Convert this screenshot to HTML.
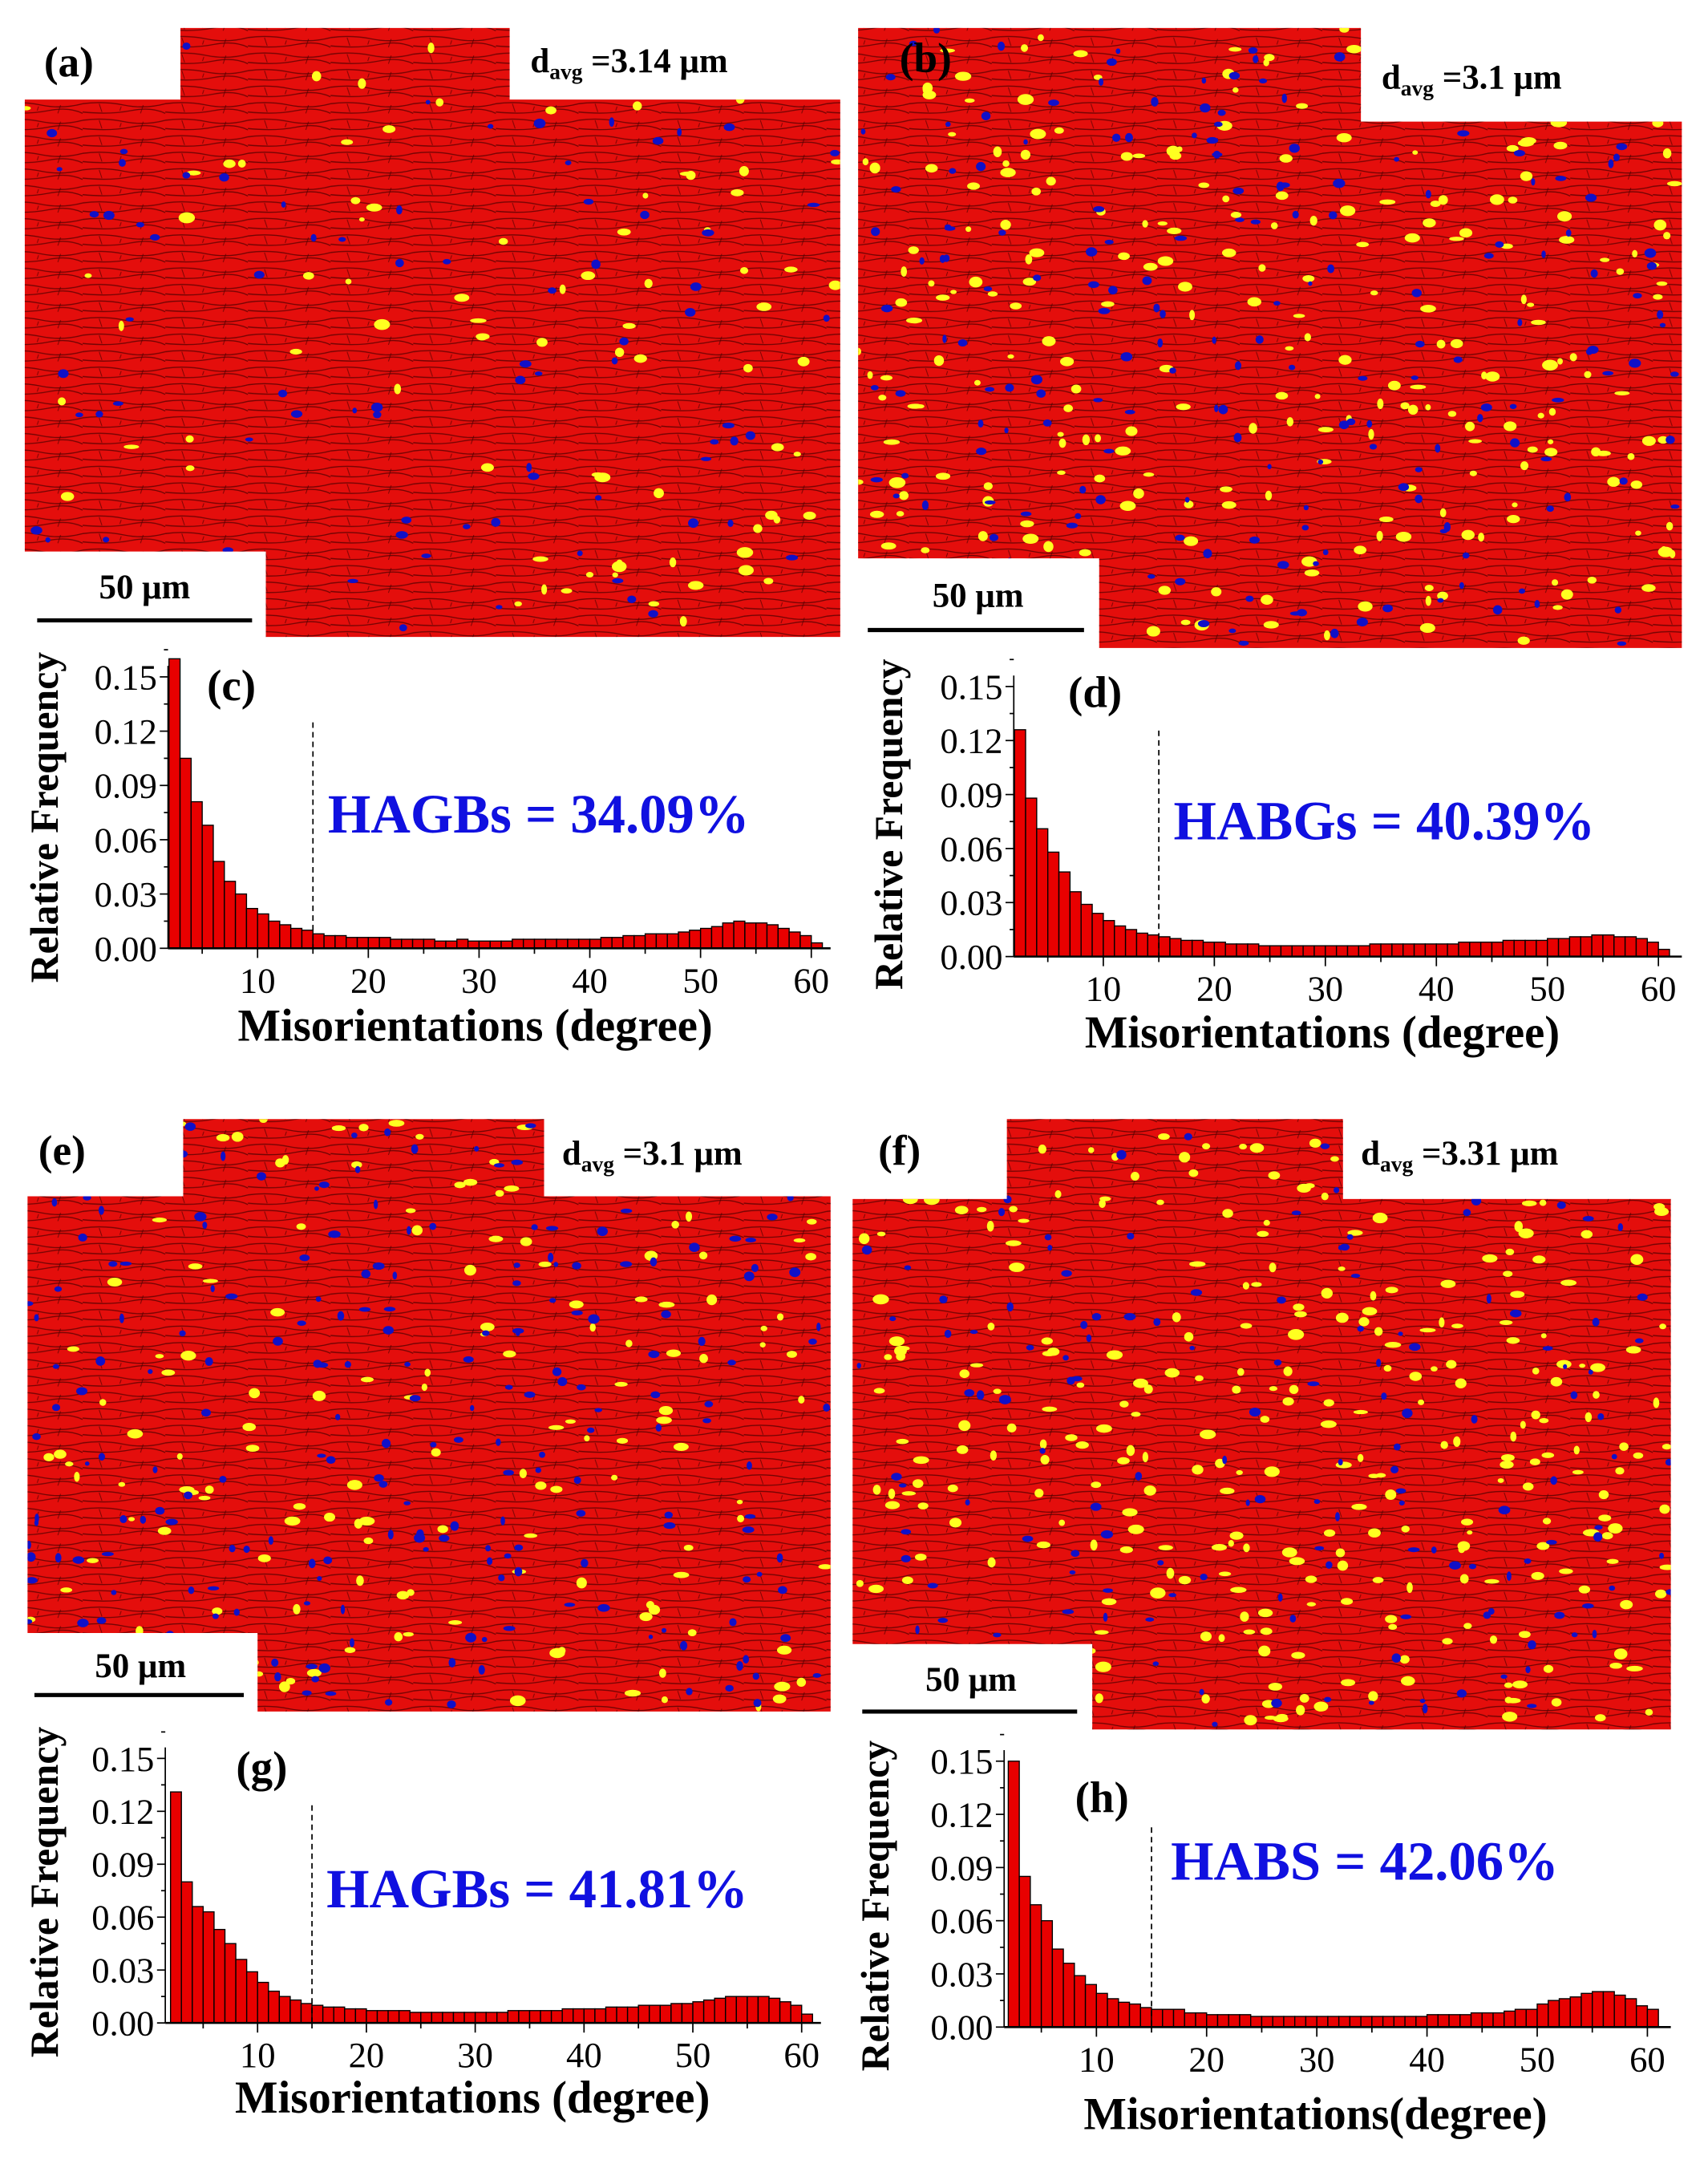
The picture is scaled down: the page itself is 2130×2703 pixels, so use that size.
<!DOCTYPE html>
<html><head><meta charset="utf-8"><style>
html,body{margin:0;padding:0;background:#fff}
svg{display:block}
text{font-family:"Liberation Serif",serif}
</style></head><body>
<svg id="fig" width="2130" height="2703" viewBox="0 0 1240 1573" xmlns="http://www.w3.org/2000/svg">
<defs>
<pattern id="grain" width="60" height="12" patternUnits="userSpaceOnUse">
<path d="M0 3 Q15 1 30 4 T60 3 M0 9 Q20 11 35 8 T60 10" stroke="#4a0000" stroke-width="0.8" fill="none" opacity="0.75"/>
<path d="M12 3 L14 9 M44 4 L42 10 M28 5 L27 8" stroke="#4a0000" stroke-width="0.6" opacity="0.7"/>
</pattern>
</defs>
<g id="maps"></g>
<g id="charts"></g>
</svg>
<script>
// ---------- chart data ----------
const binStarts = [2,3,4,5,6,7,8,9,10,11,12,13,14,15,16,17,18,19,20,21,22,23,24,25,26,27,28,29,30,31,32,33,34,35,36,37,38,39,40,41,42,43,44,45,46,47,48,49,50,51,52,53,54,55,56,57,58,59,60];
const yTicks = [0,0.03,0.06,0.09,0.12,0.15];
const yTickLabels = ["0.00","0.03","0.06","0.09","0.12","0.15"];
const xTicks = [10,20,30,40,50,60];
const seriesC = [0.160,0.105,0.081,0.068,0.048,0.037,0.030,0.022,0.019,0.015,0.013,0.011,0.010,0.008,0.007,0.007,0.006,0.006,0.006,0.006,0.005,0.005,0.005,0.005,0.004,0.004,0.005,0.004,0.004,0.004,0.004,0.005,0.005,0.005,0.005,0.005,0.005,0.005,0.005,0.006,0.006,0.007,0.007,0.008,0.008,0.008,0.009,0.010,0.011,0.012,0.014,0.015,0.014,0.014,0.013,0.011,0.009,0.007,0.003];
const seriesD = [0.126,0.088,0.071,0.058,0.047,0.036,0.029,0.024,0.020,0.017,0.015,0.013,0.012,0.011,0.010,0.009,0.009,0.008,0.008,0.007,0.007,0.007,0.006,0.006,0.006,0.006,0.006,0.006,0.006,0.006,0.006,0.006,0.007,0.007,0.007,0.007,0.007,0.007,0.007,0.007,0.008,0.008,0.008,0.008,0.009,0.009,0.009,0.009,0.010,0.010,0.011,0.011,0.012,0.012,0.011,0.011,0.010,0.008,0.004];
const seriesG = [0.131,0.080,0.066,0.063,0.053,0.045,0.036,0.029,0.023,0.018,0.015,0.013,0.011,0.010,0.009,0.009,0.008,0.008,0.007,0.007,0.007,0.007,0.006,0.006,0.006,0.006,0.006,0.006,0.006,0.006,0.006,0.007,0.007,0.007,0.007,0.007,0.008,0.008,0.008,0.008,0.009,0.009,0.009,0.010,0.010,0.010,0.011,0.011,0.012,0.013,0.014,0.015,0.015,0.015,0.015,0.014,0.012,0.010,0.005];
const seriesH = [0.150,0.085,0.069,0.060,0.044,0.036,0.029,0.024,0.019,0.016,0.014,0.013,0.011,0.010,0.010,0.010,0.008,0.008,0.007,0.007,0.007,0.007,0.006,0.006,0.006,0.006,0.006,0.006,0.006,0.006,0.006,0.006,0.006,0.006,0.006,0.006,0.006,0.006,0.007,0.007,0.007,0.007,0.008,0.008,0.008,0.009,0.010,0.010,0.013,0.015,0.016,0.017,0.019,0.020,0.020,0.018,0.016,0.012,0.010];

const NS = "http://www.w3.org/2000/svg";
function mk(tag, attrs, parent){const e=document.createElementNS(NS,tag);for(const k in attrs)e.setAttribute(k,attrs[k]);parent.appendChild(e);return e;}
const mapsG=document.getElementById('maps'), chartsG=document.getElementById('charts');

// ---------- EBSD maps (decorative texture) ----------
let seed=7;function rnd(){seed=(seed*16807)%2147483647;return seed/2147483647;}
const maps=[
 {id:'a',poly:[[131,20],[370,20],[370,72],[610,72],[610,462],[193,462],[193,400],[18,400],[18,72],[131,72]],lab:'(a)',lx:50,ly:55,d:'3.14',dx:385,dy:52,st:[105,434],sl:[27,183,450],ny:90,nb:90},
 {id:'b',poly:[[727,20],[988,20],[988,88],[1221,88],[1221,470],[798,470],[798,405],[623,405],[623,88],[623,20],[727,20]],lab:'(b)',lx:672,ly:52,d:'3.1',dx:1003,dy:64,st:[710,440],sl:[630,787,457],ny:260,nb:200},
 {id:'e',poly:[[133,812],[395,812],[395,868],[603,868],[603,1242],[187,1242],[187,1185],[20,1185],[20,868],[133,868]],lab:'(e)',lx:45,ly:845,d:'3.1',dx:408,dy:845,st:[102,1217],sl:[25,177,1230],ny:170,nb:230},
 {id:'f',poly:[[731,812],[975,812],[975,870],[1213,870],[1213,1255],[793,1255],[793,1193],[619,1193],[619,870],[731,870]],lab:'(f)',lx:653,ly:845,d:'3.31',dx:988,dy:845,st:[705,1227],sl:[626,782,1242],ny:320,nb:150}
];
maps.forEach(m=>{
 const g=mk('g',{},mapsG);
 
 
 const pts=m.poly.map(p=>p.join(',')).join(' ');
 const cp=mk('clipPath',{id:'cp'+m.id},g);mk('polygon',{points:pts},cp);
 mk('polygon',{points:pts,fill:'#e40e0c'},g);
 mk('polygon',{points:pts,fill:'url(#grain)'},g);
 const xs=m.poly.map(p=>p[0]),ys=m.poly.map(p=>p[1]);
 const x0=Math.min(...xs),x1=Math.max(...xs),y0=Math.min(...ys),y1=Math.max(...ys);
 const dots=mk('g',{'clip-path':'url(#cp'+m.id+')'},g);
 for(let i=0;i<m.ny;i++){mk('ellipse',{cx:x0+rnd()*(x1-x0),cy:y0+rnd()*(y1-y0),rx:2+rnd()*4,ry:1.5+rnd()*2.5,fill:'#ffff20'},dots);}
 for(let i=0;i<m.nb;i++){mk('ellipse',{cx:x0+rnd()*(x1-x0),cy:y0+rnd()*(y1-y0),rx:1.5+rnd()*3,ry:1.5+rnd()*2,fill:'#1010c8'},dots);}
 const l=mk('text',{x:m.lx,y:m.ly,'font-size':31,'font-weight':'bold','text-anchor':'middle'},mapsG);l.textContent=m.lab;
 
 const t=mk('text',{x:m.dx,y:m.dy,'font-size':25,'font-weight':'bold'},mapsG);
 
 t.innerHTML='d<tspan font-size="16" dy="5">avg</tspan><tspan dy="-5"> =</tspan>'+m.d+' μm';
 const s=mk('text',{x:m.st[0],y:m.st[1],'font-size':25,'font-weight':'bold','text-anchor':'middle'},mapsG);s.textContent='50 μm';
 
 const sl=mk('line',{x1:m.sl[0],x2:m.sl[1],y1:m.sl[2],y2:m.sl[2],stroke:'#000','stroke-width':3},mapsG);
 
});

// ---------- histograms ----------
const charts=[
 {id:'c',data:seriesC,ax:122,y0:688,y15:491,x10:187,x60:589,xend:603,lab:'(c)',lx:168,ly:508,txt:'HAGBs = 34.09%',tx:238,ty:604,xt:'Misorientations (degree)',xtx:345,xty:755,ytx:42,yty:593,dashTop:524},
 {id:'d',data:seriesD,ax:736,y0:694,y15:498,x10:801,x60:1204,xend:1221,lab:'(d)',lx:795,ly:513,txt:'HABGs = 40.39%',tx:852,ty:609,xt:'Misorientations (degree)',xtx:960,xty:760,ytx:655,yty:598,dashTop:530},
 {id:'g',data:seriesG,ax:120,y0:1468,y15:1276,x10:187,x60:582,xend:596,lab:'(g)',lx:190,ly:1293,txt:'HAGBs = 41.81%',tx:237,ty:1384,xt:'Misorientations (degree)',xtx:343,xty:1533,ytx:42,yty:1373,dashTop:1310},
 {id:'h',data:seriesH,ax:729,y0:1471,y15:1278,x10:796,x60:1196,xend:1213,lab:'(h)',lx:800,ly:1315,txt:'HABS = 42.06%',tx:850,ty:1364,xt:'Misorientations(degree)',xtx:955,xty:1545,ytx:645,yty:1383,dashTop:1326}
];
charts.forEach(c=>{
 const g=mk('g',{},chartsG);
 
 
 const ppd=(c.x60-c.x10)/50;
 const X=d=>c.x10+(d-10)*ppd;
 const Y=v=>c.y0-(c.y0-c.y15)*v/0.15;
 c.data.forEach((v,i)=>{
  const b=mk('rect',{x:X(binStarts[i]),y:Y(v),width:ppd,height:c.y0-Y(v),fill:'#e80000',stroke:'#000','stroke-width':0.8},g);
  
  
 });
 mk('line',{x1:c.ax,x2:c.ax,y1:c.y0,y2:c.y15-8,stroke:'#000','stroke-width':1},g);
 mk('line',{x1:c.ax,x2:c.xend,y1:c.y0,y2:c.y0,stroke:'#000','stroke-width':1.5},g);
 yTicks.forEach((v,i)=>{
  mk('line',{x1:c.ax-6,x2:c.ax,y1:Y(v),y2:Y(v),stroke:'#000','stroke-width':1},g);
  mk('line',{x1:c.ax-3,x2:c.ax,y1:Y(v+0.015),y2:Y(v+0.015),stroke:'#000','stroke-width':1},g);
  const t=mk('text',{x:c.ax-8,y:Y(v)+9,'font-size':26,'text-anchor':'end'},g);t.textContent=yTickLabels[i];
  
 });
 xTicks.forEach(d=>{
  mk('line',{x1:X(d),x2:X(d),y1:c.y0,y2:c.y0+7,stroke:'#000','stroke-width':1},g);
  mk('line',{x1:X(d-5),x2:X(d-5),y1:c.y0,y2:c.y0+4,stroke:'#000','stroke-width':1},g);
  const t=mk('text',{x:X(d),y:c.y0+32,'font-size':26,'text-anchor':'middle'},g);t.textContent=d;
  
 });
 const dl=mk('line',{x1:X(15),x2:X(15),y1:c.dashTop,y2:c.y0,stroke:'#000','stroke-width':1,'stroke-dasharray':'4,3'},g);
 
 const lb=mk('text',{x:c.lx,y:c.ly,'font-size':32,'font-weight':'bold','text-anchor':'middle'},g);lb.textContent=c.lab;
 
 const ht=mk('text',{x:c.tx,y:c.ty,'font-size':40,'font-weight':'bold',fill:'#1010e0'},g);ht.textContent=c.txt;
 
 const xt=mk('text',{x:c.xtx,y:c.xty,'font-size':33,'font-weight':'bold','text-anchor':'middle'},g);xt.textContent=c.xt;
 
 const yt=mk('text',{x:c.ytx,y:c.yty,'font-size':29,'font-weight':'bold','text-anchor':'middle',transform:'rotate(-90 '+c.ytx+' '+c.yty+')'},g);yt.textContent='Relative Frequency';
 
});
</script>
</body></html>
